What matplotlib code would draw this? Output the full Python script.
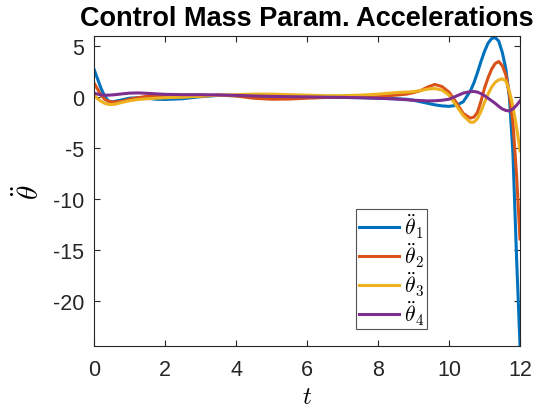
import matplotlib
matplotlib.use("Agg")
import matplotlib.pyplot as plt

# time samples
t = [0, 0.1, 0.2, 0.3, 0.4, 0.5, 0.6, 0.8, 1.0, 1.25, 1.5, 1.75, 2.0, 2.5, 3.0,
     3.5, 4.0, 4.5, 5.0, 5.5, 6.0, 6.5, 7.0, 7.5, 8.0, 8.5, 8.8, 9.0, 9.2, 9.4,
     9.6, 9.8, 10.0, 10.2, 10.4, 10.6, 10.7, 10.8, 10.9, 11.0, 11.1, 11.2, 11.3,
     11.4, 11.5, 11.6, 11.7, 11.8, 11.9, 12.0]

th1 = [2.75, 1.8, 0.85, 0.1, -0.35, -0.45, -0.4, -0.25, -0.1, -0.05, -0.1, -0.2,
       -0.22, -0.15, 0.05, 0.18, 0.15, 0.0, -0.08, -0.05, 0.0, 0.0, -0.02, -0.05,
       -0.1, -0.15, -0.2, -0.3, -0.45, -0.6, -0.75, -0.85, -0.9, -0.8, -0.45, 0.6,
       1.4, 2.4, 3.5, 4.5, 5.3, 5.75, 5.85, 5.5, 4.4, 2.8, 0.0, -5.5, -15.5, -24.4]
th2 = [1.4, 0.8, 0.2, -0.2, -0.4, -0.45, -0.47, -0.4, -0.2, -0.05, 0.1, 0.15,
       0.12, 0.05, 0.1, 0.22, 0.12, -0.1, -0.2, -0.18, -0.1, -0.03, 0.0, 0.0,
       0.05, 0.2, 0.3, 0.45, 0.65, 1.0, 1.25, 1.05, 0.5, -0.5, -1.6, -2.05,
       -1.95, -1.5, -0.4, 0.9, 1.9, 2.75, 3.3, 3.5, 3.1, 2.2, 0.3, -2.5, -7.5, -13.9]
th3 = [0.2, -0.15, -0.4, -0.6, -0.7, -0.72, -0.68, -0.5, -0.35, -0.22, -0.15, -0.1,
       -0.05, 0.0, 0.1, 0.2, 0.25, 0.3, 0.3, 0.25, 0.2, 0.15, 0.15, 0.2,
       0.3, 0.45, 0.5, 0.55, 0.65, 0.8, 0.85, 0.7, 0.2, -0.8, -1.8, -2.45,
       -2.45, -2.1, -1.4, -0.5, 0.3, 1.0, 1.45, 1.7, 1.8, 1.6, 0.6, -0.9, -2.9, -5.25]
th4 = [0.4, 0.3, 0.22, 0.2, 0.2, 0.22, 0.25, 0.33, 0.4, 0.42, 0.38, 0.33,
       0.28, 0.25, 0.25, 0.22, 0.18, 0.12, 0.08, 0.05, 0.03, 0.0, -0.02, -0.05,
       -0.1, -0.18, -0.25, -0.3, -0.33, -0.36, -0.35, -0.3, -0.2, 0.1, 0.4, 0.55,
       0.56, 0.5, 0.35, 0.15, -0.1, -0.35, -0.6, -0.9, -1.15, -1.3, -1.35, -1.15, -0.8, -0.36]

labels = [r"$\ddot{\theta}_1$", r"$\ddot{\theta}_2$", r"$\ddot{\theta}_3$", r"$\ddot{\theta}_4$"]
colors = ["#0072BD", "#D95319", "#EDB120", "#7E2F8E"]

plt.rcParams["font.family"] = "Liberation Sans"
plt.rcParams["mathtext.fontset"] = "cm"
plt.rcParams["axes.unicode_minus"] = False

fig = plt.figure(figsize=(5.39, 4.14), dpi=100)
ax = fig.add_axes([0.1744, 0.1618, 0.7904, 0.7488])

for y, lab, c in zip([th1, th2, th3, th4], labels, colors):
    ax.plot(t, y, color=c, lw=2.2, label=lab)

ax.set_xlim(0, 12)
ax.set_ylim(-24.4, 6)
ax.set_xticks(range(0, 13, 2))
ax.set_yticks([-20, -15, -10, -5, 0, 5])
ax.tick_params(direction="in", top=True, right=True, labelsize=15.5,
               color="#262626", labelcolor="#262626", length=4)
ax.tick_params(axis="x", pad=9)
ax.tick_params(axis="y", pad=7)
for s in ax.spines.values():
    s.set_color("#262626")
    s.set_linewidth(0.8)

ax.set_title("Control Mass Param. Accelerations", fontsize=19.5,
             fontweight="bold", pad=8)
ax.set_xlabel(r"$t$", fontsize=18, labelpad=3)
ax.set_ylabel(r"$\ddot{\theta}$", fontsize=21, labelpad=6)

leg = ax.legend(loc="upper left", bbox_to_anchor=(0.6605, 0.4928),
                bbox_transform=fig.transFigure, fontsize=15.5, frameon=True,
                fancybox=False, edgecolor="#262626", handlelength=1.9,
                handletextpad=0.2, borderpad=0.12, labelspacing=0.02,
                borderaxespad=0)
leg.get_frame().set_linewidth(0.8)

fig.savefig("out.png", dpi=100)
